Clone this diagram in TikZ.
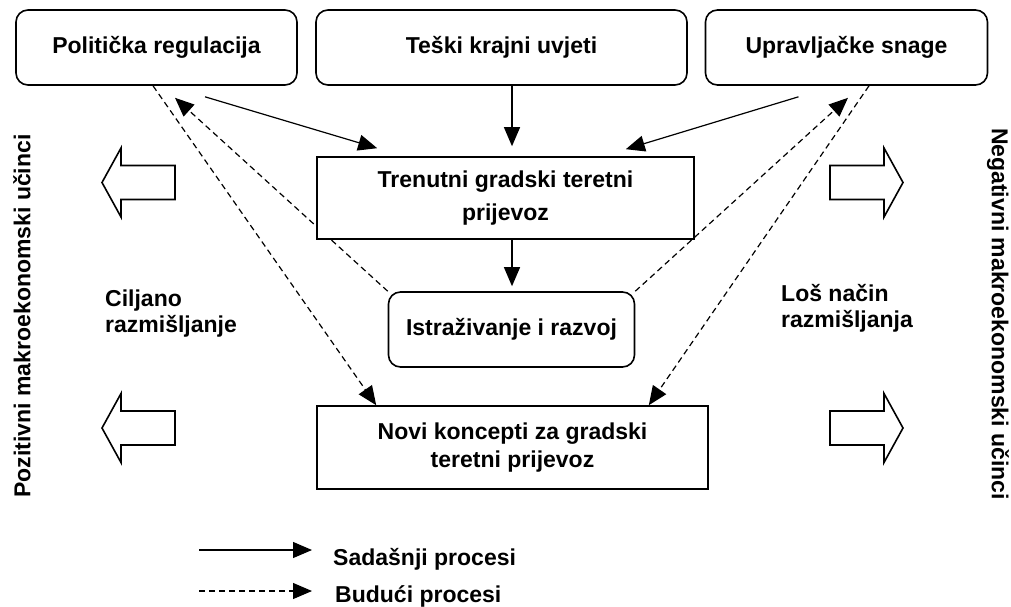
\documentclass[tikz,border=0pt]{standalone}
\usepackage{fontspec}
\setmainfont{Liberation Sans}
\usetikzlibrary{positioning, arrows.meta, backgrounds}

\tikzset{
  box/.style={draw, line width=1.6pt, fill=white, minimum height=75pt, inner sep=0pt,
    align=center, font=\bfseries\fontsize{23}{30}\selectfont},
  rbox/.style={box, rounded corners=12pt},
  now/.style={-{Triangle[length=19pt,width=16pt]}, line width=1.2pt},
  future/.style={now, dash pattern=on 6pt off 4pt},
  hollow/.style={draw, line width=1.6pt, fill=white},
  side/.style={inner sep=0pt, font=\bfseries\fontsize{23}{26}\selectfont}
}

\begin{document}
\begin{tikzpicture}[x=1pt, y=-1pt, node distance=345pt, on grid]
  \useasboundingbox (0,0) rectangle (1011,606);

  \node[rbox, minimum width=281pt] (pol) at (156.5,47.5) {Politička regulacija};
  \node[rbox, minimum width=371pt] (tes) [right=of pol] {Teški krajni uvjeti};
  \node[rbox, minimum width=282pt] (upr) [right=of tes] {Upravljačke snage};
  \node[box, minimum width=377pt, minimum height=82pt, font=\bfseries\fontsize{23}{33}\selectfont]
    (tren) [below=150.5pt of tes, xshift=4pt] {Trenutni gradski teretni\\prijevoz};
  \node[rbox, minimum width=246pt] (istr) [below=131.5pt of tren, xshift=6pt] {Istraživanje i razvoj};
  \node[box, minimum width=391pt, minimum height=83pt, font=\bfseries\fontsize{23}{28}\selectfont]
    (novi) [below=118pt of istr, xshift=1pt] {Novi koncepti za gradski\\teretni prijevoz};

  \begin{scope}[on background layer]
    \path[now]
    ([shift={(48.5,11)}]pol.south) edge ([shift={(61,-8)}]tren.north west)
      ([shift={(10.5,0)}]tes.south) edge ([shift={(6.5,-10)}]tren.north)
    ([shift={(-48,11)}]upr.south) edge ([shift={(-69,-7)}]tren.north east)
      ([shift={(6.5,0)}]tren.south) edge ([shift={(0.5,-5)}]istr.north);

    \path[future]
    ([shift={(-3.5,0)}]pol.south) edge ([shift={(60,0)}]novi.north west)
      (istr.north west) edge ([shift={(18.5,12)}]pol.south)
    (istr.north east) edge ([shift={(1.5,12)}]upr.south)
      ([shift={(22.5,0)}]upr.south) edge ([shift={(-60,0)}]novi.north east);
  \end{scope}

  % hollow arrows
  \foreach \y in {182.5, 428} {
    \draw[hollow] (175,\y-17) -- (121,\y-17) -- (121,\y-34.5) -- (102,\y)
      -- (121,\y+34.5) -- (121,\y+17) -- (175,\y+17) -- cycle;
    \draw[hollow] (830,\y-17) -- (884,\y-17) -- (884,\y-34.5) -- (903,\y)
      -- (884,\y+34.5) -- (884,\y+17) -- (830,\y+17) -- cycle;
  }

  \node[side, rotate=90] (pos) at (22,316) {Pozitivni makroekonomski učinci};
  \node[side, rotate=-90] (neg) at (998,314) {Negativni makroekonomski učinci};
  \node[side, align=left, anchor=west] (cil) at (105,314) {Ciljano\\razmišljanje};
  \node[side, align=left, anchor=west] (los) at (781,308) {Loš način\\razmišljanja};

  % legend
  \node[side, anchor=west] (sad) at (333,559) {Sadašnji procesi};
  \node[side, anchor=west] (bud) at (335,596) {Budući procesi};
  \coordinate (sadA) at (199,550);
  \coordinate (budA) at (199,591);
  \draw[now, shorten >=21pt] (sadA) -- (sadA -| sad.west);
  \draw[future, shorten >=23pt] (budA) -- (budA -| bud.west);
\end{tikzpicture}
\end{document}
